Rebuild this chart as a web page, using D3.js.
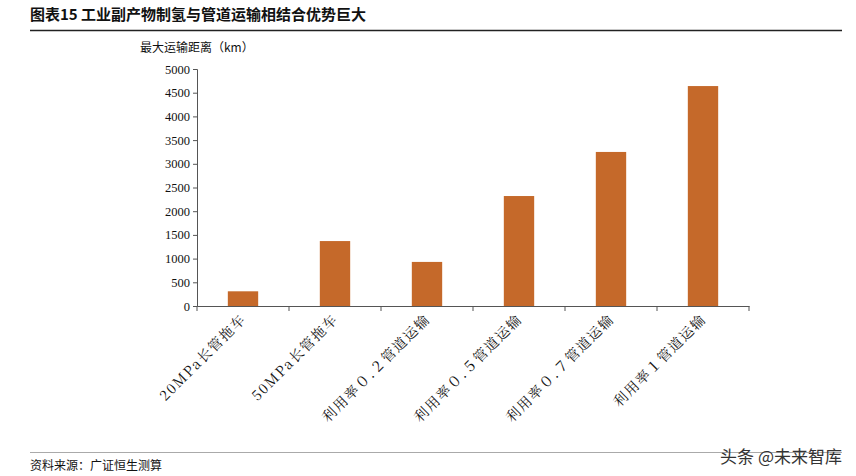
<!DOCTYPE html><html><head><meta charset="utf-8"><script src="https://d3js.org/d3.v7.min.js"></script>
<style>body{margin:0;background:#fff}</style></head><body><svg id="c" width="856" height="476"></svg>
<script>
const categories=["20MPa长管拖车","50MPa长管拖车","利用率０.２管道运输","利用率０.５管道运输","利用率０.７管道运输","利用率１管道运输"];
const values=[310,1370,930,2320,3250,4640];
const yTicks=[0,500,1000,1500,2000,2500,3000,3500,4000,4500,5000];
const svg=d3.select("#c");
const serif="'Noto Serif CJK SC','Noto Sans CJK SC',serif";
svg.append("text").attr("x",30).attr("y",20).attr("font-family","'Noto Sans CJK SC'").attr("font-weight","bold").attr("font-size",15).attr("fill","#111").text("图表15 工业副产物制氢与管道运输相结合优势巨大");
svg.append("line").attr("x1",30).attr("x2",842).attr("y1",30.5).attr("y2",30.5).attr("stroke","#222").attr("stroke-width",1.5);
svg.append("line").attr("x1",30).attr("x2",842).attr("y1",452.5).attr("y2",452.5).attr("stroke","#aaa");
svg.append("text").attr("x",30).attr("y",470).attr("font-family","'Noto Sans CJK SC'").attr("font-size",12).attr("fill","#111").text("资料来源：广证恒生测算");
svg.append("text").attr("x",842).attr("y",463).attr("text-anchor","end").attr("font-family","'Noto Sans CJK SC'").attr("font-size",17).attr("fill","#333").text("头条 @未来智库");
const x=d3.scaleBand().domain(categories).range([197,749]).paddingInner(0.67).paddingOuter(0.335);
const y=d3.scaleLinear().domain([0,5000]).range([306,69]);
svg.append("text").attr("x",140).attr("y",52).attr("font-family","'Noto Sans CJK SC'").attr("font-size",12).attr("fill","#111").text("最大运输距离（km）");
const ya=svg.append("g").attr("transform","translate(197,0)").call(d3.axisLeft(y).tickValues(yTicks).tickSize(4).tickFormat(d3.format("d")));
ya.selectAll("text").attr("font-family","'Liberation Serif',serif").attr("font-size",12.5).attr("fill","#111");
ya.selectAll("path,line").attr("stroke","#555");
svg.selectAll("rect.b").data(values).join("rect").attr("x",(d,i)=>x(categories[i])).attr("width",x.bandwidth()).attr("y",d=>y(d)).attr("height",d=>306-y(d)).attr("fill","#C5692A");
const step=x.step();
const xa=svg.append("g").attr("transform","translate(0,306)").call(d3.axisBottom(x).tickSize(0).tickFormat(""));
xa.select("path").attr("stroke","#555");
categories.forEach((c,i)=>{const xx=197+step*i;svg.append("line").attr("x1",xx).attr("x2",xx).attr("y1",306).attr("y2",311).attr("stroke","#555");});
svg.append("line").attr("x1",749).attr("x2",749).attr("y1",306).attr("y2",311).attr("stroke","#555");
categories.forEach((c,i)=>{const cx=x(c)+x.bandwidth()/2+4;svg.append("text").attr("transform",`translate(${cx},320) rotate(-45)`).attr("text-anchor","end").attr("font-family",serif).attr("font-size",14).attr("letter-spacing",1.5).attr("fill","#111").text(c);});
</script></body></html>
